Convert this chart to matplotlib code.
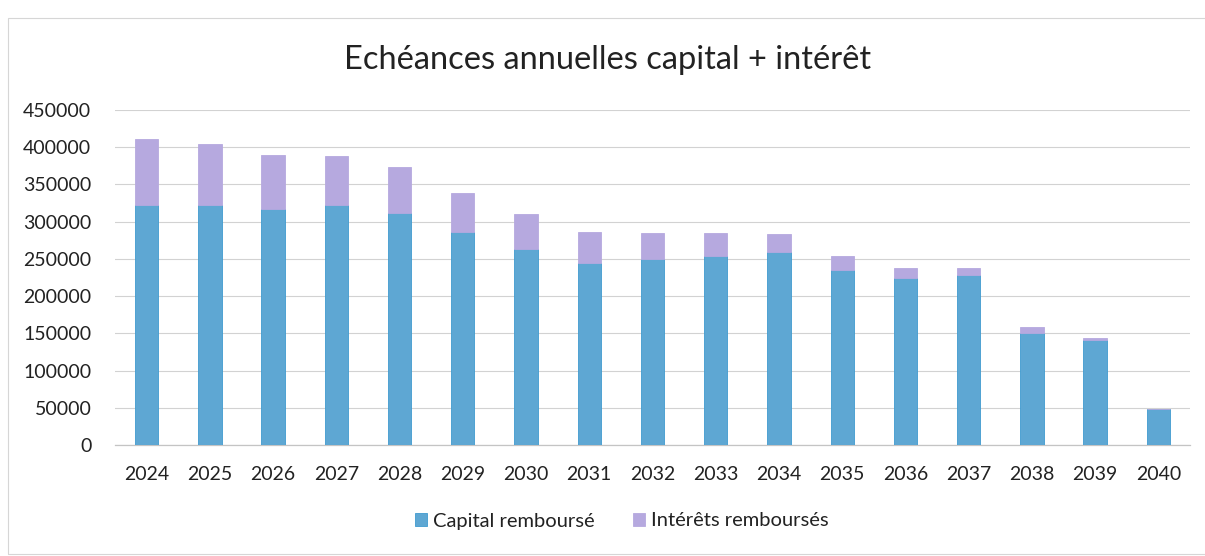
import matplotlib
matplotlib.use("Agg")
import matplotlib.pyplot as plt
from matplotlib.patches import Rectangle
import numpy as np

years = ["2024", "2025", "2026", "2027", "2028", "2029", "2030", "2031", "2032",
         "2033", "2034", "2035", "2036", "2037", "2038", "2039", "2040"]
capital = [322000, 323000, 317000, 322000, 312000, 286000, 263000, 244000, 250000,
           254000, 259000, 235000, 224000, 228000, 151000, 141000, 48000]
interets = [89000, 81000, 73000, 66000, 61000, 52000, 47000, 42000, 35000,
            31000, 25000, 19000, 14000, 10000, 7000, 3000, 0]
yticks = [0, 50000, 100000, 150000, 200000, 250000, 300000, 350000, 400000, 450000]

title = "Echéances annuelles capital + intérêt"
label_cap = "Capital remboursé"
label_int = "Intérêts remboursés"

plt.rcParams['font.family'] = ['Lato', 'DejaVu Sans']

W, H = 1205, 556
fig = plt.figure(figsize=(W / 100, H / 100), dpi=100)
fig.patch.set_facecolor("white")

# chart border
fig.patches.append(Rectangle((8 / W, 1 - 554 / H), 1.2, (554 - 18) / H,
                             transform=fig.transFigure, fill=False,
                             edgecolor="#d6d6d6", linewidth=0.8))

ax = fig.add_axes([115 / W, 1 - 445 / H, (1190 - 115) / W, (445 - 110) / H])
x = np.arange(len(years))
blue = "#5ea7d3"
purple = "#b6a9df"
ax.bar(x, capital, width=0.37, color=blue, edgecolor="#3f9bd0", linewidth=0.6,
       label=label_cap, zorder=3)
ax.bar(x, interets, width=0.37, bottom=capital, color=purple, edgecolor=purple,
       linewidth=0.6, label=label_int, zorder=3)

ax.set_xlim(-0.5, len(years) - 0.5)
ax.set_ylim(0, 450000)
ax.set_yticks(yticks)
ax.set_yticklabels([str(v) for v in yticks])
ax.set_xticks(x)
ax.set_xticklabels(years)
ax.tick_params(axis="both", length=0, labelsize=14, colors="#222222")
ax.tick_params(axis="x", pad=15)
ax.tick_params(axis="y", pad=17)
ax.grid(axis="y", color="#d2d2d2", linewidth=0.8, zorder=0)
for s in ["top", "right", "left"]:
    ax.spines[s].set_visible(False)
ax.spines["bottom"].set_color("#c4c4c4")
ax.spines["bottom"].set_linewidth(0.9)

fig.text(608 / W, 1 - 60 / H, title, ha="center", va="center", fontsize=23.5,
         color="#222222")

leg = fig.legend(loc="center", bbox_to_anchor=(622 / W, 1 - 521 / H), ncol=2,
                 frameon=False, fontsize=14.5, handlelength=0.6, handleheight=0.6,
                 handletextpad=0.3, columnspacing=1.9)
for t in leg.get_texts():
    t.set_color("#222222")

fig.savefig("out.png", dpi=100, facecolor="white")
